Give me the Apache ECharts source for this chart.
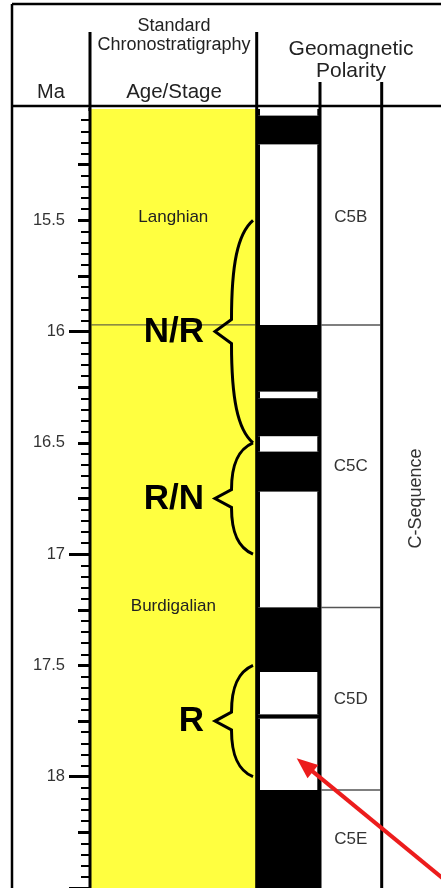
<!DOCTYPE html>
<html><head><meta charset="utf-8">
<script src="https://cdn.jsdelivr.net/npm/echarts@6/dist/echarts.min.js"></script>
<style>html,body{margin:0;padding:0;background:#fff}#c{width:441px;height:888px}</style>
</head><body><div id="c"></div>
<script>
// ---- data (Ma) ----
const axisMin = 15.0, axisMax = 18.5;
const stageNames = ['Langhian', 'Burdigalian'];
const stageTop   = [13.82, 15.97];
const stageBase  = [15.97, 20.44];
const polarityTop  = [15.00, 15.03, 15.16, 15.97, 16.27, 16.30, 16.47, 16.54, 16.72, 17.24, 17.53, 17.72, 17.74, 18.06];
const polarityBase = [15.03, 15.16, 15.97, 16.27, 16.30, 16.47, 16.54, 16.72, 17.24, 17.53, 17.72, 17.74, 18.06, 18.52];
const polarityType = ['R', 'N', 'R', 'N', 'R', 'N', 'R', 'N', 'R', 'N', 'R', 'N', 'R', 'N'];
const chronNames = ['C5B', 'C5C', 'C5D', 'C5E'];
const chronTop   = [14.16, 15.97, 17.24, 18.06];
const chronBase  = [15.97, 17.24, 18.06, 18.75];
const braceTop    = [15.5, 16.5, 17.5];
const braceBase   = [16.5, 17.0, 18.0];
const braceLabels = ['N/R', 'R/N', 'R'];

// ---- layout (px) ----
const FONT = '"Liberation Sans", Arial, sans-serif';
const X = { frame: 12, ma: 90, stage: 256.7, pol: 320, chron: 381.7, right: 441 };
const Y = { frame: 4, header: 106, top: 109, subHead: 32, polHead: 82, bottom: 888 };

const chart = echarts.init(document.getElementById('c'), null, { renderer: 'canvas' });

function clipMid(t, b) { return (Math.max(t, axisMin) + Math.min(b, axisMax)) / 2; }
function txt(text, x, y, size, opts) {
  opts = opts || {};
  return {
    type: 'text', x: x, y: y, z: 110, rotation: opts.rotation || 0,
    style: {
      text: text, fill: opts.color || '#222',
      font: (opts.weight || 'normal') + ' ' + size + 'px ' + FONT,
      textAlign: opts.align || 'center', textVerticalAlign: 'middle',
      align: opts.align || 'center', verticalAlign: 'middle'
    }
  };
}
function ln(x1, y1, x2, y2, w, color) {
  return { type: 'line', z: 100, shape: { x1: x1, y1: y1, x2: x2, y2: y2 }, style: { stroke: color || '#000', lineWidth: w } };
}

// arrow geometry (annotation)
const tip = [296.7, 758.3], tail = [452, 886];
const dl = Math.hypot(tail[0] - tip[0], tail[1] - tip[1]);
const ux = (tail[0] - tip[0]) / dl, uy = (tail[1] - tip[1]) / dl;
const hl = 21, hw = 8.5;
const hb = [tip[0] + ux * hl, tip[1] + uy * hl];

const graphics = [
  ln(X.frame, Y.frame, X.right, Y.frame, 2.5),
  ln(X.frame, Y.frame, X.frame, Y.bottom, 2.5),
  ln(X.frame, Y.header, X.right, Y.header, 2.5),
  ln(X.ma, Y.subHead, X.ma, Y.bottom, 3),
  ln(X.stage, Y.subHead, X.stage, Y.bottom, 3),
  ln(X.pol, Y.polHead, X.pol, Y.bottom, 3),
  ln(X.chron, Y.polHead, X.chron, Y.bottom, 3),
  { type: 'rect', z: 90, shape: { x: 55, y: 107.3, width: 33.4, height: 4.4 }, style: { fill: '#fff' } },
  txt('Ma', 51, 92.5, 20),
  txt('Standard', 174, 26, 18),
  txt('Chronostratigraphy', 174, 45, 18),
  txt('Age/Stage', 174, 92.5, 20.5),
  txt('Geomagnetic', 351, 49, 21),
  txt('Polarity', 351, 71, 21),
  txt('C-Sequence', 416, 498.5, 18, { rotation: Math.PI / 2, color: '#333' }),
  { type: 'line', z: 120, shape: { x1: tail[0], y1: tail[1], x2: hb[0] - ux * 2, y2: hb[1] - uy * 2 },
    style: { stroke: '#ec1c1c', lineWidth: 4 } },
  { type: 'polygon', z: 120, shape: { points: [tip,
      [hb[0] - uy * hw, hb[1] + ux * hw], [hb[0] + uy * hw, hb[1] - ux * hw]] },
    style: { fill: '#ec1c1c' } }
];

const yBase = { type: 'value', inverse: true, min: axisMin, max: axisMax, position: 'left', offset: 0,
  splitLine: { show: false }, axisLine: { show: false } };

const option = {
  animation: false,
  backgroundColor: '#fff',
  grid: { left: X.ma, right: 0, top: Y.top, bottom: 0, containLabel: false },
  xAxis: { type: 'value', min: 0, max: 1, show: false },
  yAxis: [
    Object.assign({}, yBase, { interval: 1, axisLabel: { show: false },
      axisTick: { length: 21, lineStyle: { color: '#000', width: 3 } } }),
    Object.assign({}, yBase, { interval: 0.25, axisLabel: { show: false },
      axisTick: { length: 12, lineStyle: { color: '#000', width: 3 } },
      minorTick: { show: true, splitNumber: 5, length: 9, lineStyle: { color: '#000', width: 2 } } }),
    Object.assign({}, yBase, { interval: 0.5, axisTick: { show: false },
      axisLabel: { show: true, margin: 25, fontSize: 16.5, color: '#333', fontFamily: FONT,
        showMinLabel: false, showMaxLabel: false } })
  ],
  graphic: graphics,
  series: [
    { // stages
      type: 'custom', clip: true, z: 1,
      encode: { y: [0, 1] },
      data: stageNames.map((n, i) => [stageTop[i], stageBase[i]]),
      renderItem: function (params, api) {
        const t = api.value(0), b = api.value(1);
        const y0 = api.coord([0, t])[1], y1 = api.coord([0, b])[1];
        const ym = api.coord([0, clipMid(t, b)])[1];
        const ch = [
          { type: 'rect', shape: { x: X.ma, y: y0, width: X.stage - X.ma, height: y1 - y0 }, style: { fill: '#ffff40' } },
          { type: 'text', style: { text: stageNames[params.dataIndex], x: (X.ma + X.stage) / 2, y: ym,
            fill: '#222', font: '17px ' + FONT, textAlign: 'center', textVerticalAlign: 'middle', align: 'center', verticalAlign: 'middle' } }
        ];
        if (t > axisMin) ch.push({ type: 'line', shape: { x1: X.ma + 1.5, y1: y0, x2: X.stage - 1.5, y2: y0 }, style: { stroke: '#444', lineWidth: 1 } });
        return { type: 'group', children: ch };
      }
    },
    { // polarity
      type: 'custom', clip: true, z: 2,
      encode: { y: [0, 1] },
      data: polarityTop.map((t, i) => [t, polarityBase[i], polarityType[i] === 'N' ? 1 : 0]),
      renderItem: function (params, api) {
        const t = api.value(0), b = api.value(1), n = api.value(2);
        const y0 = api.coord([0, t])[1], y1 = api.coord([0, b])[1];
        const ch = [{ type: 'rect', shape: { x: X.stage, y: y0, width: X.pol - X.stage, height: y1 - y0 }, style: { fill: '#000' } }];
        if (n === 0) ch.push({ type: 'rect', shape: { x: X.stage + 3.3, y: y0, width: X.pol - X.stage - 6.0, height: y1 - y0 }, style: { fill: '#fff' } });
        return { type: 'group', children: ch };
      }
    },
    { // chrons
      type: 'custom', clip: true, z: 3,
      encode: { y: [0, 1] },
      data: chronNames.map((n, i) => [chronTop[i], chronBase[i]]),
      renderItem: function (params, api) {
        const t = api.value(0), b = api.value(1);
        const y0 = api.coord([0, t])[1];
        const ym = api.coord([0, clipMid(t, b)])[1];
        const ch = [
          { type: 'text', style: { text: chronNames[params.dataIndex], x: (X.pol + X.chron) / 2, y: ym,
            fill: '#333', font: '17px ' + FONT, textAlign: 'center', textVerticalAlign: 'middle', align: 'center', verticalAlign: 'middle' } }
        ];
        if (t > axisMin) ch.push({ type: 'line', shape: { x1: X.pol + 1.5, y1: y0, x2: X.chron - 1.5, y2: y0 }, style: { stroke: '#555', lineWidth: 1.5 } });
        return { type: 'group', children: ch };
      }
    },
    { // braces
      type: 'custom', clip: false, z: 4,
      encode: { y: [0, 1] },
      data: braceTop.map((t, i) => [t, braceBase[i]]),
      renderItem: function (params, api) {
        const ya = api.coord([0, api.value(0)])[1], yb = api.coord([0, api.value(1)])[1];
        const ym = (ya + yb) / 2, h = (yb - ya) / 2, k = Math.min(12, 0.16 * h);
        const xe = 253, xi = 231.5, xt = 215;
        const d = 'M' + xe + ' ' + ya +
          ' C' + (xi + 6) + ' ' + (ya + 0.12 * h) + ' ' + xi + ' ' + (ya + 0.4 * h) + ' ' + xi + ' ' + (ym - k) +
          ' L' + xt + ' ' + ym + ' L' + xi + ' ' + (ym + k) +
          ' C' + xi + ' ' + (yb - 0.4 * h) + ' ' + (xi + 6) + ' ' + (yb - 0.12 * h) + ' ' + xe + ' ' + yb;
        return { type: 'group', children: [
          { type: 'path', shape: { pathData: d }, style: { fill: null, stroke: '#000', lineWidth: 3, lineJoin: 'miter' } },
          { type: 'text', style: { text: braceLabels[params.dataIndex], x: 204, y: ym + 0.5,
            fill: '#000', font: 'bold 35px ' + FONT, textAlign: 'right', textVerticalAlign: 'middle', align: 'right', verticalAlign: 'middle' } }
        ] };
      }
    }
  ]
};
chart.setOption(option);
</script>
</body></html>
